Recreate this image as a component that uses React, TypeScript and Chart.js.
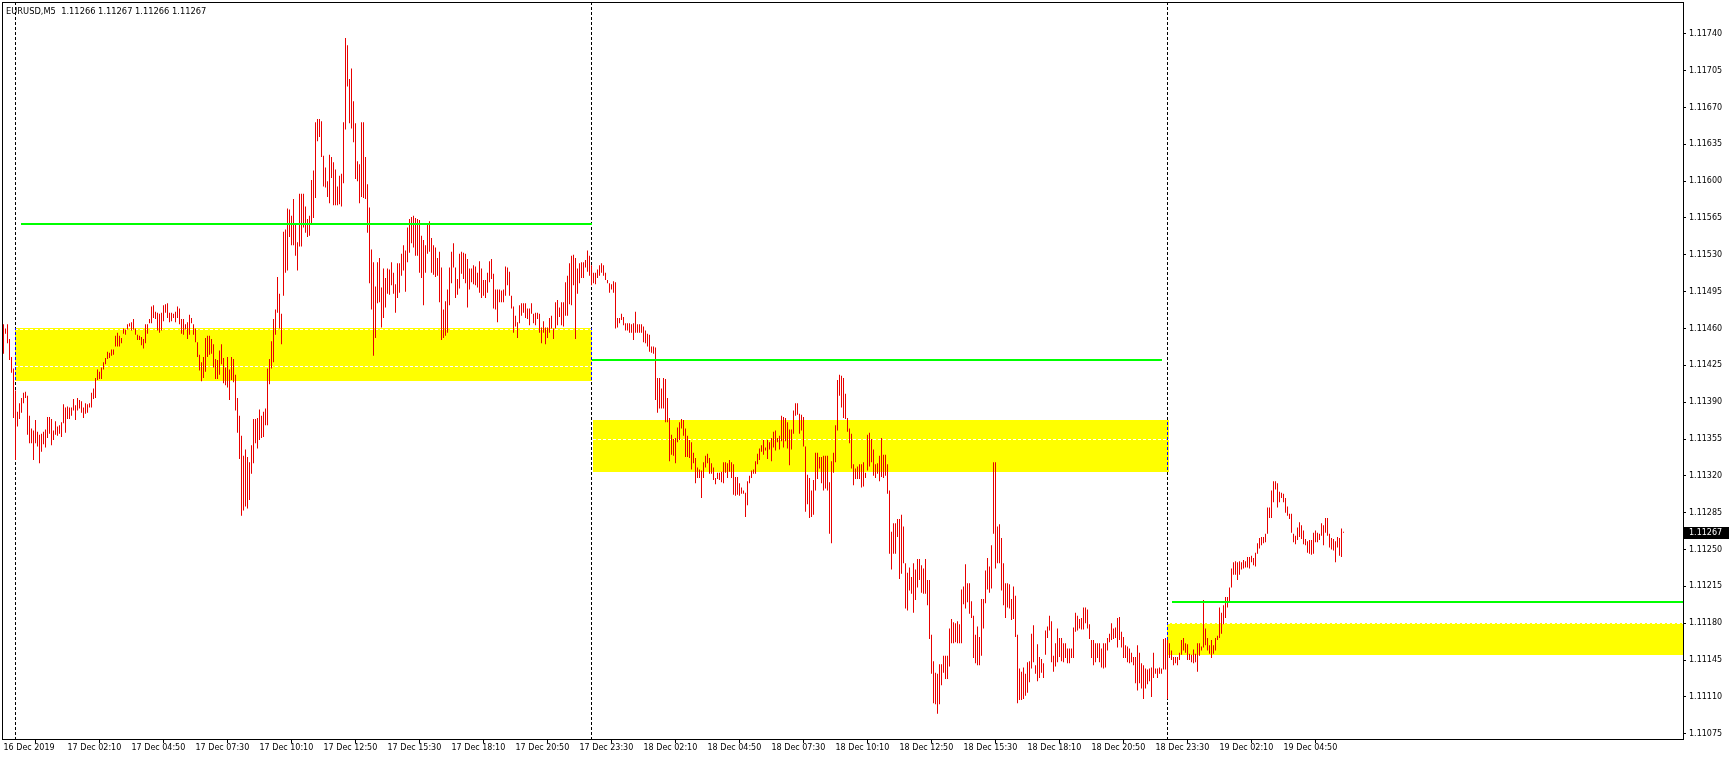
import React, { useEffect, useRef } from 'react';
import { Chart, registerables } from 'chart.js';

Chart.register(...registerables);

// ---- data (EURUSD M5, prices = PRICE_BASE + points / 100000) ----
const SYMBOL = 'EURUSD,M5';
const PRICE_BASE = 1.11;
const LAST_OHLC = [1.11266, 1.11267, 1.11266, 1.11267];

const HIGH_PTS = [
  464, 460, 464, 450, 433, 422, 401, 381, 389, 394,
  399, 400, 396, 377, 365, 363, 373, 362, 359, 360,
  362, 364, 376, 376, 374, 363, 372, 367, 368, 371,
  388, 385, 386, 385, 385, 393, 387, 394, 392, 391,
  385, 389, 388, 389, 399, 403, 413, 421, 419, 423,
  428, 432, 438, 437, 440, 440, 453, 456, 453, 451,
  460, 459, 464, 465, 466, 469, 460, 454, 453, 452,
  450, 464, 464, 469, 481, 482, 476, 475, 474, 475,
  482, 483, 484, 475, 475, 474, 476, 481, 479, 469,
  469, 464, 466, 473, 470, 464, 460, 447, 435, 428,
  433, 451, 453, 453, 450, 445, 431, 430, 439, 445,
  432, 423, 433, 421, 433, 431, 416, 394, 377, 358,
  339, 345, 338, 333, 349, 374, 374, 375, 383, 377,
  381, 384, 422, 431, 448, 469, 478, 509, 493, 474,
  552, 554, 574, 573, 567, 583, 559, 542, 588, 588,
  588, 576, 564, 567, 601, 610, 656, 659, 659, 657,
  624, 613, 600, 625, 623, 618, 611, 595, 605, 607,
  656, 736, 729, 697, 707, 676, 655, 619, 616, 656,
  656, 623, 597, 575, 535, 523, 500, 523, 527, 499,
  517, 508, 517, 516, 523, 513, 502, 522, 522, 531,
  539, 534, 556, 564, 566, 567, 565, 564, 563, 548,
  544, 539, 559, 562, 546, 539, 537, 527, 533, 518,
  478, 486, 497, 518, 533, 541, 518, 507, 531, 533,
  532, 531, 526, 517, 517, 520, 519, 513, 524, 517,
  506, 506, 513, 524, 526, 512, 497, 497, 497, 496,
  497, 519, 518, 514, 491, 481, 472, 466, 482, 484,
  484, 484, 479, 479, 484, 474, 475, 475, 474, 461,
  467, 461, 461, 470, 472, 460, 485, 487, 480, 485,
  485, 504, 510, 522, 529, 530, 527, 517, 522, 523,
  523, 525, 534, 529, 520, 513, 513, 516, 520, 522,
  520, 513, 506, 503, 502, 505, 504, 470, 470, 474,
  471, 465, 465, 465, 464, 465, 476, 464, 464, 464,
  462, 458, 455, 454, 443, 443, 442, 413, 413, 403,
  413, 412, 394, 375, 359, 355, 356, 366, 371, 374,
  373, 365, 358, 354, 352, 342, 337, 328, 326, 325,
  333, 339, 341, 337, 332, 328, 318, 323, 323, 324,
  333, 333, 332, 335, 333, 331, 319, 319, 313, 309,
  306, 304, 315, 320, 325, 326, 334, 341, 346, 349,
  354, 347, 354, 352, 356, 362, 363, 356, 358, 377,
  376, 375, 371, 364, 364, 382, 389, 389, 379, 378,
  376, 348, 321, 318, 306, 316, 342, 342, 338, 338,
  339, 339, 339, 314, 334, 342, 368, 411, 416, 415,
  413, 398, 375, 365, 360, 331, 327, 329, 331, 331,
  333, 323, 359, 361, 355, 345, 331, 332, 339, 356,
  340, 340, 331, 306, 267, 275, 275, 279, 279, 283,
  272, 237, 228, 233, 224, 237, 231, 241, 241, 235,
  232, 241, 221, 221, 169, 144, 133, 132, 141, 141,
  149, 149, 149, 175, 184, 181, 180, 182, 179, 212,
  215, 236, 218, 218, 201, 187, 169, 177, 167, 203,
  203, 230, 242, 234, 254, 333, 333, 272, 274, 261,
  237, 218, 218, 217, 203, 215, 206, 169, 137, 134,
  138, 132, 143, 144, 170, 178, 140, 160, 148, 146,
  142, 173, 177, 187, 182, 149, 161, 175, 166, 166,
  161, 161, 156, 156, 156, 176, 190, 187, 184, 185,
  195, 195, 193, 179, 164, 164, 161, 161, 161, 156,
  161, 161, 166, 170, 180, 175, 176, 185, 186, 172,
  167, 159, 158, 156, 152, 148, 148, 159, 152, 142,
  140, 137, 136, 137, 138, 152, 137, 137, 138, 137,
  165, 166, 164, 161, 154, 148, 148, 148, 152, 164,
  166, 161, 160, 151, 150, 155, 151, 161, 161, 158,
  202, 175, 166, 159, 164, 159, 166, 168, 195, 190,
  197, 205, 205, 214, 232, 238, 239, 238, 239, 238,
  240, 239, 243, 243, 244, 242, 247, 256, 261, 262,
  262, 265, 290, 290, 306, 315, 315, 313, 305, 304,
  303, 299, 291, 284, 284, 265, 263, 271, 276, 273,
  268, 260, 258, 259, 259, 266, 268, 266, 265, 275,
  273, 280, 280, 265, 261, 260, 258, 262, 261, 270,
  267,
];

const LOW_PTS = [
  436, 455, 446, 430, 418, 375, 335, 367, 374, 380,
  389, 394, 359, 351, 351, 335, 351, 348, 332, 343,
  350, 347, 356, 360, 349, 354, 359, 358, 360, 357,
  370, 361, 374, 374, 377, 382, 373, 382, 384, 380,
  375, 379, 380, 385, 385, 393, 394, 411, 412, 412,
  421, 426, 431, 432, 434, 435, 443, 443, 443, 446,
  455, 454, 459, 462, 458, 459, 454, 449, 449, 444,
  441, 446, 455, 465, 465, 470, 469, 458, 456, 458,
  467, 475, 470, 466, 467, 470, 466, 470, 464, 455,
  454, 459, 450, 454, 465, 454, 447, 433, 420, 410,
  413, 419, 433, 435, 436, 423, 412, 412, 416, 426,
  408, 406, 404, 392, 411, 409, 382, 361, 336, 282,
  287, 291, 289, 297, 322, 332, 351, 346, 354, 356,
  357, 368, 368, 407, 422, 428, 454, 475, 460, 445,
  491, 513, 515, 547, 539, 539, 529, 515, 538, 538,
  556, 551, 547, 548, 560, 565, 584, 638, 642, 623,
  595, 594, 585, 579, 603, 577, 577, 577, 578, 576,
  598, 649, 690, 655, 650, 637, 602, 600, 579, 585,
  584, 583, 551, 503, 478, 434, 451, 484, 485, 461,
  470, 480, 493, 492, 501, 493, 475, 489, 494, 510,
  515, 495, 523, 532, 541, 537, 529, 529, 513, 508,
  482, 513, 531, 533, 513, 511, 509, 510, 485, 449,
  451, 453, 456, 482, 503, 518, 489, 492, 498, 512,
  507, 503, 480, 497, 504, 502, 501, 499, 494, 489,
  491, 489, 494, 504, 507, 479, 478, 466, 485, 485,
  485, 491, 501, 491, 479, 456, 462, 451, 465, 472,
  475, 470, 469, 463, 474, 465, 463, 469, 456, 446,
  456, 445, 451, 456, 460, 450, 460, 463, 471, 463,
  462, 472, 472, 483, 482, 501, 450, 493, 503, 508,
  508, 518, 514, 510, 501, 503, 502, 508, 510, 513,
  510, 506, 503, 494, 497, 494, 460, 461, 465, 468,
  463, 458, 458, 456, 456, 449, 456, 456, 456, 456,
  447, 446, 443, 438, 437, 436, 392, 380, 384, 384,
  384, 371, 371, 334, 340, 339, 332, 352, 354, 365,
  358, 338, 338, 337, 326, 332, 313, 318, 318, 299,
  318, 328, 332, 322, 322, 316, 312, 317, 316, 314,
  313, 323, 318, 324, 318, 302, 301, 302, 301, 303,
  303, 281, 292, 313, 318, 322, 322, 331, 335, 343,
  340, 344, 336, 345, 334, 347, 344, 352, 345, 353,
  347, 353, 346, 330, 345, 360, 377, 378, 360, 363,
  348, 286, 293, 280, 281, 283, 306, 317, 327, 313,
  306, 308, 306, 265, 256, 323, 333, 363, 396, 385,
  375, 374, 362, 351, 327, 311, 317, 317, 317, 309,
  310, 318, 325, 329, 333, 320, 318, 322, 315, 319,
  318, 320, 303, 246, 231, 246, 246, 262, 222, 227,
  237, 194, 192, 211, 208, 190, 202, 214, 221, 209,
  208, 208, 197, 165, 132, 104, 103, 94, 103, 121,
  133, 127, 127, 139, 161, 161, 162, 161, 161, 161,
  198, 194, 200, 189, 185, 147, 142, 140, 140, 149,
  175, 199, 212, 209, 213, 265, 232, 237, 237, 211,
  197, 185, 195, 194, 183, 184, 167, 104, 107, 107,
  108, 111, 114, 124, 137, 143, 132, 125, 128, 133,
  128, 150, 166, 173, 143, 134, 139, 143, 148, 144,
  143, 147, 142, 142, 147, 147, 172, 173, 175, 174,
  174, 180, 175, 165, 147, 140, 143, 147, 143, 138,
  137, 138, 154, 162, 164, 165, 166, 157, 164, 157,
  147, 147, 143, 142, 143, 140, 123, 116, 123, 118,
  108, 118, 122, 125, 110, 128, 132, 128, 132, 132,
  136, 136, 108, 147, 145, 140, 142, 140, 145, 150,
  154, 152, 145, 145, 143, 142, 143, 134, 149, 154,
  157, 159, 154, 151, 147, 151, 154, 164, 166, 170,
  179, 185, 195, 200, 214, 226, 226, 221, 226, 231,
  232, 233, 233, 232, 238, 235, 234, 246, 251, 254,
  256, 257, 265, 280, 280, 295, 307, 290, 295, 299,
  295, 285, 282, 279, 266, 257, 255, 259, 262, 260,
  255, 254, 247, 246, 245, 246, 257, 257, 259, 263,
  254, 266, 263, 252, 250, 249, 238, 252, 244, 243,
  266,
];

// time axis: a label every 32 bars (2h40m of M5 bars)
const X_LABEL_STEP = 32;
const X_LABELS = [
  '16 Dec 2019', '17 Dec 02:10', '17 Dec 04:50', '17 Dec 07:30', '17 Dec 10:10',
  '17 Dec 12:50', '17 Dec 15:30', '17 Dec 18:10', '17 Dec 20:50', '17 Dec 23:30',
  '18 Dec 02:10', '18 Dec 04:50', '18 Dec 07:30', '18 Dec 10:10', '18 Dec 12:50',
  '18 Dec 15:30', '18 Dec 18:10', '18 Dec 20:50', '18 Dec 23:30', '19 Dec 02:10',
  '19 Dec 04:50',
];
const Y_TICKS = [
  1.11075, 1.1111, 1.11145, 1.1118, 1.11215, 1.1125, 1.11285, 1.1132, 1.11355, 1.1139,
  1.11425, 1.1146, 1.11495, 1.1153, 1.11565, 1.116, 1.11635, 1.1167, 1.11705, 1.1174,
];
const X_MIN = -0.75;
const X_MAX = 839.75;
const Y_MIN = 1.1107002;
const Y_MAX = 1.1177017;

// day separators (bar index of 00:00)
const DAY_START_BARS = [6, 294, 582];

// daily zones (bar ranges and price ranges)
const ZONE_FROM_BAR = [5.75, 294.75, 581.75];
const ZONE_TO_BAR = [294.25, 582.75, X_MAX];
const ZONE_HIGH = [1.1146, 1.11373, 1.1118];
const ZONE_LOW = [1.1141, 1.11324, 1.1115];
const GREEN_FROM_BAR = [8.75, 294.25, 584];
const GREEN_TO_BAR = [294, 579.25, X_MAX];
const GREEN_LEVEL = [1.11559, 1.1143, 1.112];
const DASH_LEVEL = [1.11459, 1.11424, 1.113545, 1.1118];
const DASH_ZONE = [0, 0, 1, 2];

const BAR_COLOR = '#e80000';
const FONT = '"DejaVu Sans", "Liberation Sans", sans-serif';

export default function App() {
  const ref = useRef<HTMLCanvasElement | null>(null);

  useEffect(() => {
    document.body.style.margin = '0';
    const canvas = ref.current;
    if (!canvas) return;

    const bars = HIGH_PTS.map((h, i) => ({
      x: i,
      y: [PRICE_BASE + LOW_PTS[i] / 100000, PRICE_BASE + h / 100000],
    }));

    const overlay = {
      id: 'mt4Overlay',
      beforeDatasetsDraw(chart: any) {
        const { ctx, chartArea: ca, scales } = chart;
        const xs = scales.x;
        const ys = scales.y;
        ctx.save();
        ctx.beginPath();
        ctx.rect(ca.left, ca.top, ca.right - ca.left, ca.bottom - ca.top);
        ctx.clip();
        // zones
        ctx.fillStyle = '#ffff00';
        const zoneRects: number[][] = [];
        for (let k = 0; k < ZONE_HIGH.length; k++) {
          const x1 = Math.round(xs.getPixelForValue(ZONE_FROM_BAR[k]));
          const x2 = Math.min(Math.round(xs.getPixelForValue(ZONE_TO_BAR[k])), Math.round(ca.right));
          const y1 = Math.round(ys.getPixelForValue(ZONE_HIGH[k]));
          const y2 = Math.round(ys.getPixelForValue(ZONE_LOW[k]));
          ctx.fillRect(x1, y1, x2 - x1, y2 - y1);
          zoneRects.push([x1, y1, x2 - x1, y2 - y1]);
        }
        // white dashed levels
        ctx.strokeStyle = '#ffffff';
        ctx.lineWidth = 1;
        ctx.setLineDash([3, 2]);
        for (let k = 0; k < DASH_LEVEL.length; k++) {
          const z = DASH_ZONE[k];
          const x1 = Math.round(xs.getPixelForValue(ZONE_FROM_BAR[z]));
          const x2 = Math.min(Math.round(xs.getPixelForValue(ZONE_TO_BAR[z])), Math.round(ca.right));
          const y = Math.floor(ys.getPixelForValue(DASH_LEVEL[k])) + 0.5;
          ctx.beginPath();
          ctx.moveTo(x1, y);
          ctx.lineTo(x2, y);
          ctx.stroke();
        }
        // period separators (black, blue where crossing yellow)
        const drawSeps = (color: string) => {
          ctx.strokeStyle = color;
          ctx.setLineDash([3, 2]);
          for (const b of DAY_START_BARS) {
            const x = Math.floor(xs.getPixelForValue(b)) + 0.5;
            ctx.beginPath();
            ctx.moveTo(x, ca.top);
            ctx.lineTo(x, ca.bottom);
            ctx.stroke();
          }
        };
        drawSeps('#000000');
        ctx.save();
        ctx.beginPath();
        for (const r of zoneRects) ctx.rect(r[0], r[1], r[2], r[3]);
        ctx.clip();
        drawSeps('#0000ff');
        ctx.restore();
        ctx.restore();
      },
      afterDatasetsDraw(chart: any) {
        const { ctx, chartArea: ca, scales } = chart;
        const xs = scales.x;
        const ys = scales.y;
        ctx.save();
        // green levels
        ctx.strokeStyle = '#00ff00';
        ctx.lineWidth = 2;
        ctx.setLineDash([]);
        for (let k = 0; k < GREEN_LEVEL.length; k++) {
          const x1 = Math.round(xs.getPixelForValue(GREEN_FROM_BAR[k]));
          const x2 = Math.min(Math.round(xs.getPixelForValue(GREEN_TO_BAR[k])), Math.round(ca.right));
          const y = Math.round(ys.getPixelForValue(GREEN_LEVEL[k]));
          ctx.beginPath();
          ctx.moveTo(x1, y);
          ctx.lineTo(x2, y);
          ctx.stroke();
        }
        // frame
        ctx.strokeStyle = '#000000';
        ctx.lineWidth = 1;
        ctx.strokeRect(Math.round(ca.left) + 0.5, Math.round(ca.top) + 0.5,
          Math.round(ca.right) - Math.round(ca.left), Math.round(ca.bottom) - Math.round(ca.top));
        // title
        ctx.fillStyle = '#000000';
        ctx.font = '8.3px ' + FONT;
        ctx.textBaseline = 'middle';
        ctx.textAlign = 'left';
        ctx.fillText(SYMBOL + '  ' + LAST_OHLC.map((v) => v.toFixed(5)).join(' '), 6, 11.5);
        // current price marker
        const last = LAST_OHLC[3];
        const py = Math.round(ys.getPixelForValue(last));
        ctx.font = '8px ' + FONT;
        ctx.fillStyle = '#000000';
        ctx.fillRect(Math.round(ca.right) + 1, py - 5, chart.width - Math.round(ca.right) - 1, 12);
        ctx.fillStyle = '#ffffff';
        ctx.fillText(last.toFixed(5), Math.round(ca.right) + 6, py + 1);
        ctx.restore();
      },
    };

    const chart = new Chart(canvas, {
      type: 'bar',
      data: {
        datasets: [
          {
            data: bars as any,
            backgroundColor: BAR_COLOR,
            borderWidth: 0,
            barThickness: 1,
            inflateAmount: 0,
          } as any,
        ],
      },
      options: {
        responsive: false,
        animation: false,
        devicePixelRatio: 1,
        layout: { padding: { left: 2, top: 2, right: 0, bottom: 0 }, autoPadding: false } as any,
        plugins: { legend: { display: false }, tooltip: { enabled: false }, title: { display: false } },
        scales: {
          x: {
            type: 'linear',
            position: 'bottom',
            min: X_MIN,
            max: X_MAX,
            offset: false,
            border: { display: false },
            grid: { drawOnChartArea: false, drawTicks: true, tickLength: 4, color: '#000000', lineWidth: 1 },
            ticks: {
              autoSkip: false,
              maxRotation: 0,
              minRotation: 0,
              align: 'start',
              padding: 0,
              color: '#000000',
              font: { family: FONT, size: 8 },
              callback: (v: any) => X_LABELS[Math.round(Number(v) / X_LABEL_STEP)] ?? '',
            },
            afterBuildTicks: (s: any) => {
              s.ticks = X_LABELS.map((_, k) => ({ value: k * X_LABEL_STEP }));
            },
            afterFit: (s: any) => {
              s.height = 21;
              s.paddingLeft = 0;
              s.paddingRight = 0;
              s.paddingTop = 0;
              s.paddingBottom = 0;
            },
          } as any,
          y: {
            type: 'linear',
            position: 'right',
            min: Y_MIN,
            max: Y_MAX,
            border: { display: false },
            grid: { drawOnChartArea: false, drawTicks: true, tickLength: 3, color: '#000000', lineWidth: 1 },
            ticks: {
              autoSkip: false,
              padding: 3,
              color: '#000000',
              font: { family: FONT, size: 8 },
              callback: (v: any) => Number(v).toFixed(5),
            },
            afterBuildTicks: (s: any) => {
              s.ticks = Y_TICKS.map((v) => ({ value: v }));
            },
            afterFit: (s: any) => {
              s.width = 46;
              s.paddingLeft = 0;
              s.paddingRight = 0;
              s.paddingTop = 0;
              s.paddingBottom = 0;
            },
          } as any,
        },
      },
      plugins: [overlay],
    });

    return () => chart.destroy();
  }, []);

  return (
    <div style={{ position: 'absolute', left: 0, top: 0, width: 1729, height: 760, background: '#ffffff' }}>
      <canvas ref={ref} width={1729} height={760} style={{ display: 'block', width: 1729, height: 760 }} />
    </div>
  );
}
